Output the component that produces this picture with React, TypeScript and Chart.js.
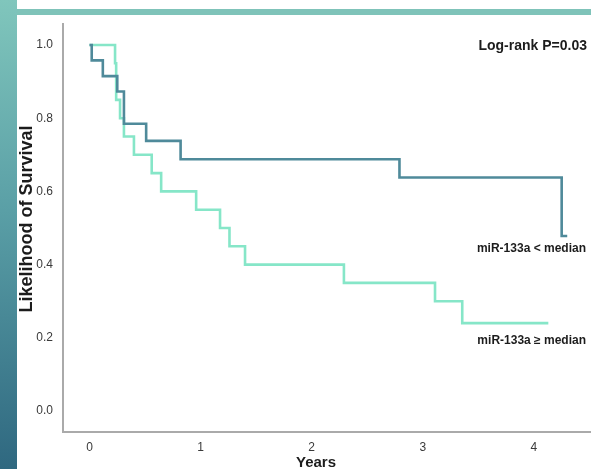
import React, { useEffect, useRef } from "react";
import { Chart, registerables } from "chart.js";

Chart.register(...registerables);

// ---- data ----
const yearTicks = [0, 1, 2, 3, 4];
const survivalTicks = [0, 0.2, 0.4, 0.6, 0.8, 1.0];

const lowLabel = "miR-133a < median";
const lowTimes = [0, 0.02, 0.12, 0.25, 0.31, 0.51, 0.82, 2.79, 4.25, 4.3];
const lowSurvival = [1.0, 0.958, 0.915, 0.873, 0.785, 0.738, 0.688, 0.638, 0.478, 0.478];

const highLabel = "miR-133a ≥ median";
const highTimes = [0, 0.23, 0.24, 0.275, 0.31, 0.4, 0.56, 0.645, 0.96, 1.175, 1.26, 1.4, 2.29, 3.11, 3.355, 4.13];
const highSurvival = [1.0, 0.95, 0.85, 0.8, 0.75, 0.7, 0.65, 0.6, 0.55, 0.5, 0.45, 0.4, 0.35, 0.3, 0.24, 0.24];

const logRankText = "Log-rank P=0.03";
const xTitle = "Years";
const yTitle = "Likelihood of Survival";

const FONT = '"Liberation Sans", Arial, Helvetica, sans-serif';

const textPlugin = {
  id: "kmText",
  afterDraw(chart: any) {
    const ctx = chart.ctx;
    const W = chart.width;
    ctx.save();
    ctx.fillStyle = "#1c1c1c";
    ctx.textBaseline = "alphabetic";
    ctx.textAlign = "right";
    ctx.font = `bold 14px ${FONT}`;
    ctx.fillText(logRankText, W - 4, 50);
    ctx.font = `bold 12px ${FONT}`;
    ctx.fillText(lowLabel, W - 5, 251.5);
    ctx.fillText(highLabel, W - 5, 344);
    ctx.textAlign = "center";
    ctx.font = `bold 15px ${FONT}`;
    ctx.fillText(xTitle, 316, 467);
    ctx.translate(32, 219);
    ctx.rotate(-Math.PI / 2);
    ctx.font = `bold 18px ${FONT}`;
    ctx.fillText(yTitle, 0, 0);
    ctx.restore();
  },
};

export default function App() {
  const canvasRef = useRef<HTMLCanvasElement | null>(null);

  useEffect(() => {
    if (!canvasRef.current) return;
    const chart = new Chart(canvasRef.current, {
      type: "line",
      data: {
        datasets: [
          {
            label: lowLabel,
            data: lowTimes.map((t, i) => ({ x: t, y: lowSurvival[i] })),
            borderColor: "#4f8a9a",
            borderWidth: 2.6,
            stepped: "before",
            pointRadius: 0,
            fill: false,
            borderCapStyle: "butt",
            borderJoinStyle: "miter",
          },
          {
            label: highLabel,
            data: highTimes.map((t, i) => ({ x: t, y: highSurvival[i] })),
            borderColor: "#86e6c8",
            borderWidth: 2.6,
            stepped: "before",
            pointRadius: 0,
            fill: false,
            borderCapStyle: "butt",
            borderJoinStyle: "miter",
          },
        ],
      },
      options: {
        animation: false,
        responsive: false,
        layout: { padding: { top: 24, left: 0, right: 0, bottom: 0 } },
        plugins: {
          legend: { display: false },
          tooltip: { enabled: false },
        },
        scales: {
          x: {
            type: "linear",
            min: -0.2385,
            max: 4.514,
            afterBuildTicks: (scale: any) => {
              scale.ticks = yearTicks.map((v) => ({ value: v }));
            },
            afterFit: (scale: any) => {
              scale.height = 37;
            },
            grid: { display: false, drawTicks: false },
            border: { display: true, color: "#aaaaaa", width: 2 },
            ticks: {
              padding: 8,
              color: "#3a3a3a",
              font: { size: 12, family: FONT },
              maxRotation: 0,
              callback: (v: any) => String(v),
            },
          },
          y: {
            type: "linear",
            min: -0.0574,
            max: 1.0574,
            afterBuildTicks: (scale: any) => {
              scale.ticks = survivalTicks.map((v) => ({ value: v }));
            },
            afterFit: (scale: any) => {
              scale.width = 63;
            },
            grid: { display: false, drawTicks: false },
            border: { display: true, color: "#aaaaaa", width: 2 },
            ticks: {
              padding: 10,
              color: "#3a3a3a",
              font: { size: 12, family: FONT },
              callback: (v: any) => Number(v).toFixed(1),
            },
          },
        },
      },
      plugins: [textPlugin],
    } as any);
    return () => chart.destroy();
  }, []);

  return (
    <div
      style={{
        position: "absolute",
        left: 0,
        top: 0,
        width: 591,
        height: 469,
        background: "#ffffff",
        overflow: "hidden",
      }}
    >
      <div
        style={{
          position: "absolute",
          left: 0,
          top: 0,
          width: 17,
          height: 469,
          background: "linear-gradient(to bottom, #80c6bc 0%, #5a9fa6 45%, #2f6880 100%)",
        }}
      />
      <div
        style={{
          position: "absolute",
          left: 17,
          top: 9,
          width: 574,
          height: 6,
          background: "#7fc3b9",
        }}
      />
      <canvas
        ref={canvasRef}
        width={591}
        height={469}
        style={{ position: "absolute", left: 0, top: 0, display: "block" }}
      />
    </div>
  );
}
